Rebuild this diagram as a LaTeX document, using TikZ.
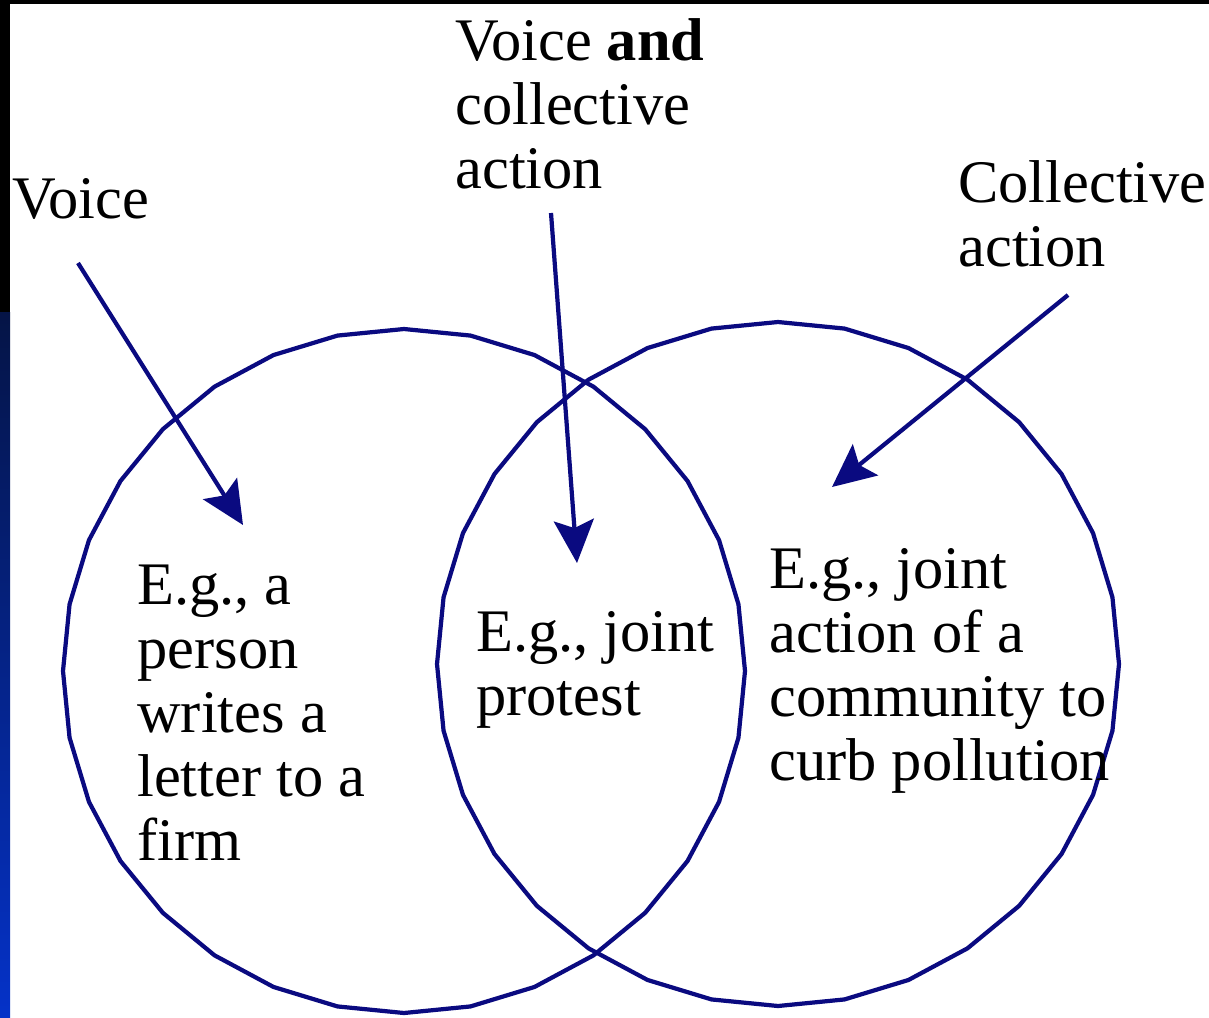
\documentclass[tikz,border=0pt]{standalone}
\usepackage{fontspec}
\setmainfont{Liberation Serif}
\usetikzlibrary{arrows.meta}
\definecolor{venn}{RGB}{10,10,128}
\definecolor{bandtop}{RGB}{5,20,70}
\definecolor{bandbot}{RGB}{5,50,200}
\begin{document}
\begin{tikzpicture}[x=0.02cm,y=-0.02cm,
  ring/.style={draw=venn,line width=2.4pt,line join=miter},
  pointer/.style={draw=venn,line width=2.4pt,
    -{Stealth[length=0.86cm,width=0.8cm,inset=0.16cm]}},
  lbl/.style={anchor=base west,align=left,inner sep=0pt,
    font=\fontsize{34.4}{36.4}\selectfont}]
  \useasboundingbox (0,0) rectangle (1209,1017);
  \fill[white] (0,0) rectangle (1209,1017);
  % frame bands
  \fill[black] (0,0) rectangle (1209,4);
  \fill[black] (0,0) rectangle (10,312);
  \shade[top color=bandtop,bottom color=bandbot] (0,312) rectangle (10,1017);

  % the two overlapping circles (drawn as 32-sided polygons)
  \draw[ring] plot[samples=33,domain=0:360] ({404+341*cos(\x)},{671+342*sin(\x)}) -- cycle;
  \draw[ring] plot[samples=33,domain=0:360] ({778+341*cos(\x)},{664+342*sin(\x)}) -- cycle;

  % labels above (positioned by the baseline of their last line)
  \node[lbl] (voice) at (12,218) {Voice};
  \node[lbl] (both) at (455,188) {Voice \textbf{and}\\collective\\action};
  \node[lbl] (coll) at (958,266) {Collective\\action};

  % examples inside the regions
  \node[lbl] (exl) at (137,860) {E.g., a\\person\\writes a\\letter to a\\firm};
  \node[lbl] (exm) at (476,715) {E.g., joint\\protest};
  \node[lbl] (exr) at (769,780) {E.g., joint\\action of a\\community to\\curb pollution};

  % arrow ends
  \coordinate (v0) at (78,263);
  \coordinate (v1) at (243,525);
  \coordinate (m0) at (551,213);
  \coordinate (m1) at (577,563);
  \coordinate (c0) at (1068,295);
  \coordinate (c1) at (832,487);
  \draw[pointer] (v0) -- (v1);
  \draw[pointer] (m0) -- (m1);
  \draw[pointer] (c0) -- (c1);
\end{tikzpicture}
\end{document}
